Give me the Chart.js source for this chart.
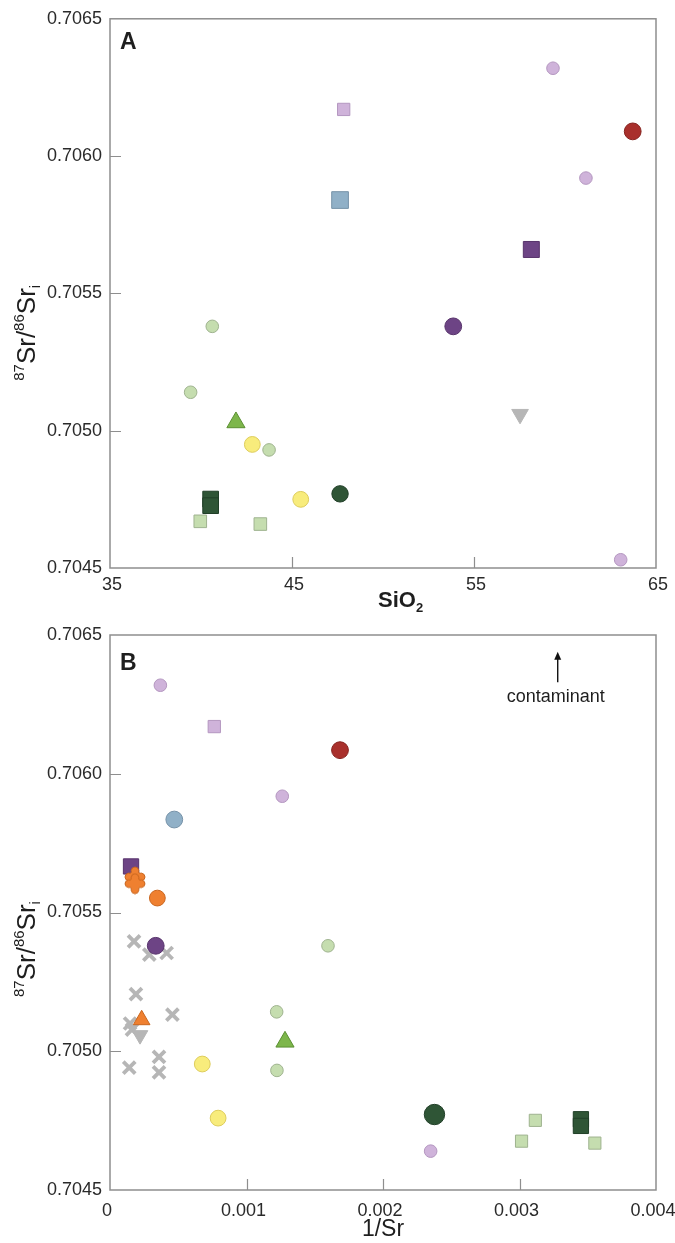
<!DOCTYPE html>
<html>
<head>
<meta charset="utf-8">
<script src="https://cdn.jsdelivr.net/npm/chart.js@4.4.1/dist/chart.umd.min.js"></script>
<style>
  body { margin: 0; background: #fff; width: 675px; height: 1243px; overflow: hidden; position: relative; }
  .wrap { position: absolute; left: 0; }
  #wa { top: 0; }
  #wb { top: 615px; }
</style>
</head>
<body>
<div class="wrap" id="wa"><canvas id="chartA" width="675" height="615"></canvas></div>
<div class="wrap" id="wb"><canvas id="chartB" width="675" height="632"></canvas></div>
<script>
// ---- panel A: SiO2 vs 87Sr/86Sr(i) ----
const lilacCircleSiO2 = [59.34, 61.15, 63.06];
const lilacCircleSrA  = [0.70632, 0.70592, 0.70453];
const lilacSquareSiO2 = [47.84];
const lilacSquareSrA  = [0.70617];
const redCircleSiO2 = [63.72];
const redCircleSrA  = [0.70609];
const blueSiO2 = [47.64];
const blueSrA  = [0.70584];
const purpleSquareSiO2 = [58.15];
const purpleSquareSrA  = [0.70566];
const purpleCircleSiO2 = [53.86];
const purpleCircleSrA  = [0.70538];
const lightGreenCircleSiO2 = [40.62, 39.43, 43.74];
const lightGreenCircleSrA  = [0.70538, 0.70514, 0.70493];
const greenTriangleSiO2 = [41.92];
const greenTriangleSrA  = [0.70503];
const yellowSiO2 = [42.82, 45.48];
const yellowSrA  = [0.70495, 0.70475];
const lightGreenSquareSiO2 = [39.96, 43.26];
const lightGreenSquareSrA  = [0.70467, 0.70466];
const darkGreenSquareSiO2 = [40.53, 40.53];
const darkGreenSquareSrA  = [0.704751, 0.704727];
const darkGreenCircleSiO2 = [47.64];
const darkGreenCircleSrA  = [0.70477];
const greyTriangleSiO2 = [57.53];
const greyTriangleSrA  = [0.70506];

// ---- panel B: 1/Sr vs 87Sr/86Sr(i) ----
const greyCrossInvSr = [0.000176, 0.000288, 0.000415, 0.00019, 0.000457, 0.000147, 0.000161, 0.000359, 0.000141, 0.000359];
const greyCrossSrB   = [0.705396, 0.705348, 0.705354, 0.705206, 0.705132, 0.7051, 0.705078, 0.70498, 0.704941, 0.704924];
const greyTriangleInvSr = [0.00022];
const greyTriangleSrB   = [0.705058];
const purpleSquareInvSr = [0.000154];
const purpleSquareSrB   = [0.705666];
const orangeStarInvSr = [0.000183, 0.000183];
const orangeStarSrB   = [0.705628, 0.705604];
const orangeCircleInvSr = [0.000347];
const orangeCircleSrB   = [0.705552];
const orangeTriangleInvSr = [0.000232];
const orangeTriangleSrB   = [0.705113];
const purpleCircleInvSr = [0.000335];
const purpleCircleSrB   = [0.70538];
const lilacCircleInvSr = [0.000369, 0.001262, 0.002349];
const lilacCircleSrB   = [0.706319, 0.705919, 0.70464];
const lilacSquareInvSr = [0.000764];
const lilacSquareSrB   = [0.70617];
const redCircleInvSr = [0.001685];
const redCircleSrB   = [0.706085];
const blueInvSr = [0.000471];
const blueSrB   = [0.705835];
const lightGreenCircleInvSr = [0.001597, 0.001221, 0.001223];
const lightGreenCircleSrB   = [0.70538, 0.705142, 0.704931];
const greenTriangleInvSr = [0.001282];
const greenTriangleSrB   = [0.705034];
const yellowInvSr = [0.000676, 0.000792];
const yellowSrB   = [0.704954, 0.704759];
const lightGreenSquareInvSr = [0.003116, 0.003015, 0.003552];
const lightGreenSquareSrB   = [0.704751, 0.704676, 0.704669];
const darkGreenSquareInvSr = [0.00345, 0.00345];
const darkGreenSquareSrB   = [0.704755, 0.704731];
const darkGreenCircleInvSr = [0.002377];
const darkGreenCircleSrB   = [0.704772];

// axis ticks
const srTicks = [0.7045, 0.7050, 0.7055, 0.7060, 0.7065];
const sio2Ticks = [35, 45, 55, 65];
const invSrTicks = [0, 0.001, 0.002, 0.003, 0.004];

// contaminant arrow (panel B)
const contaminantX = 0.00328;
const contaminantArrow = [0.70633, 0.70644];
const contaminantLabelY = 0.70626;

const FONT = '"Liberation Sans", Arial, Helvetica, sans-serif';
Chart.defaults.font.family = FONT;

function pts(xs, ys) {
  return xs.map((x, i) => ({ x: x, y: ys[i] }));
}

// orange four-lobed marker
function makeStar() {
  const c = document.createElement('canvas');
  c.width = 22; c.height = 22;
  const g = c.getContext('2d');
  const cx = 11, cy = 11;
  g.beginPath();
  for (let k = 0; k < 4; k++) {
    const a = k * Math.PI / 2 - Math.PI / 2;
    const l = [cx + Math.cos(a - 0.55) * 7.5, cy + Math.sin(a - 0.55) * 7.5];
    const r = [cx + Math.cos(a + 0.55) * 7.5, cy + Math.sin(a + 0.55) * 7.5];
    const tip = [cx + Math.cos(a) * 10, cy + Math.sin(a) * 10];
    const inner = [cx + Math.cos(a + Math.PI / 4) * 4.2, cy + Math.sin(a + Math.PI / 4) * 4.2];
    const nl = [cx + Math.cos(a + Math.PI / 2 - 0.55) * 7.5, cy + Math.sin(a + Math.PI / 2 - 0.55) * 7.5];
    if (k === 0) g.moveTo(l[0], l[1]);
    g.quadraticCurveTo(cx + Math.cos(a - 0.3) * 10.5, cy + Math.sin(a - 0.3) * 10.5, tip[0], tip[1]);
    g.quadraticCurveTo(cx + Math.cos(a + 0.3) * 10.5, cy + Math.sin(a + 0.3) * 10.5, r[0], r[1]);
    g.quadraticCurveTo(inner[0], inner[1], nl[0], nl[1]);
  }
  g.closePath();
  g.fillStyle = '#ef8030';
  g.fill();
  g.strokeStyle = '#c9661f';
  g.lineWidth = 1;
  g.stroke();
  return c;
}

const C = {
  lilac:  ['#cfb3da', '#b497c0'],
  red:    ['#a9302c', '#86231f'],
  blue:   ['#90b0c7', '#7692a8'],
  purple: ['#6d4485', '#57336b'],
  lgreen: ['#c5ddaf', '#9fb38f'],
  gtri:   ['#7db64b', '#5b8f32'],
  yellow: ['#f8ec7c', '#ddcc5c'],
  dgreen: ['#2f5536', '#213f28'],
  grey:   ['#b6b6b6', '#b6b6b6'],
  orange: ['#ef8030', '#c9661f']
};

function ds(data, col, style, radius, extra) {
  return Object.assign({
    data: data,
    backgroundColor: C[col][0],
    borderColor: C[col][1],
    borderWidth: 1,
    pointStyle: style,
    pointRadius: radius,
    pointHoverRadius: radius,
    clip: false
  }, extra || {});
}

// listed bottom -> top
const datasetsA = [
  ds(pts(lilacCircleSiO2, lilacCircleSrA), 'lilac', 'circle', 6.3),
  ds(pts(lilacSquareSiO2, lilacSquareSrA), 'lilac', 'rect', 8.7),
  ds(pts(redCircleSiO2, redCircleSrA), 'red', 'circle', 8.4),
  ds(pts(blueSiO2, blueSrA), 'blue', 'rect', 11.8),
  ds(pts(purpleSquareSiO2, purpleSquareSrA), 'purple', 'rect', 11.3),
  ds(pts(purpleCircleSiO2, purpleCircleSrA), 'purple', 'circle', 8.4),
  ds(pts(lightGreenCircleSiO2, lightGreenCircleSrA), 'lgreen', 'circle', 6.3),
  ds(pts(greenTriangleSiO2, greenTriangleSrA), 'gtri', 'triangle', 10.5),
  ds(pts(yellowSiO2, yellowSrA), 'yellow', 'circle', 7.9),
  ds(pts(lightGreenSquareSiO2, lightGreenSquareSrA), 'lgreen', 'rect', 8.9),
  ds(pts(darkGreenSquareSiO2, darkGreenSquareSrA), 'dgreen', 'rect', 11.1),
  ds(pts(darkGreenCircleSiO2, darkGreenCircleSrA), 'dgreen', 'circle', 8.2),
  ds(pts(greyTriangleSiO2, greyTriangleSrA), 'grey', 'triangle', 9.6, { rotation: 180 })
];

const datasetsB = [
  ds(pts(greyCrossInvSr, greyCrossSrB), 'grey', 'crossRot', 8.5, { borderWidth: 3.8 }),
  ds(pts(greyTriangleInvSr, greyTriangleSrB), 'grey', 'triangle', 9, { rotation: 180 }),
  ds(pts(purpleSquareInvSr, purpleSquareSrB), 'purple', 'rect', 10.8),
  ds(pts(orangeStarInvSr, orangeStarSrB), 'orange', makeStar(), 11),
  ds(pts(orangeCircleInvSr, orangeCircleSrB), 'orange', 'circle', 7.9),
  ds(pts(orangeTriangleInvSr, orangeTriangleSrB), 'orange', 'triangle', 9.6),
  ds(pts(purpleCircleInvSr, purpleCircleSrB), 'purple', 'circle', 8.4),
  ds(pts(lilacCircleInvSr, lilacCircleSrB), 'lilac', 'circle', 6.3),
  ds(pts(lilacSquareInvSr, lilacSquareSrB), 'lilac', 'rect', 8.7),
  ds(pts(redCircleInvSr, redCircleSrB), 'red', 'circle', 8.4),
  ds(pts(blueInvSr, blueSrB), 'blue', 'circle', 8.4),
  ds(pts(lightGreenCircleInvSr, lightGreenCircleSrB), 'lgreen', 'circle', 6.3),
  ds(pts(greenTriangleInvSr, greenTriangleSrB), 'gtri', 'triangle', 10.5),
  ds(pts(yellowInvSr, yellowSrB), 'yellow', 'circle', 7.9),
  ds(pts(lightGreenSquareInvSr, lightGreenSquareSrB), 'lgreen', 'rect', 8.6),
  ds(pts(darkGreenSquareInvSr, darkGreenSquareSrB), 'dgreen', 'rect', 10.8),
  ds(pts(darkGreenCircleInvSr, darkGreenCircleSrB), 'dgreen', 'circle', 10.2)
];

// later datasets on top
function setOrder(list) {
  list.forEach((d, i) => { d.order = list.length - i; });
  return list;
}

function drawRuns(ctx, runs, x, y) {
  let cx = x;
  runs.forEach(r => {
    ctx.font = (r.bold ? 'bold ' : '') + r.size + 'px ' + FONT;
    ctx.fillText(r.t, cx, y + (r.dy || 0));
    cx += ctx.measureText(r.t).width;
  });
}

// frame + inward tick marks
const framePlugin = {
  id: 'frame',
  beforeDatasetsDraw(chart) {
    const { ctx, chartArea: a, scales } = chart;
    const x = scales.x, y = scales.y;
    ctx.save();
    ctx.strokeStyle = '#8e8e8e';
    ctx.lineWidth = 1.5;
    ctx.strokeRect(a.left, a.top, a.right - a.left, a.bottom - a.top);
    ctx.lineWidth = 1.2;
    ctx.beginPath();
    x.ticks.forEach(t => {
      if (t.value > x.min && t.value < x.max) {
        const px = Math.round(x.getPixelForValue(t.value)) + 0.5;
        ctx.moveTo(px, a.bottom); ctx.lineTo(px, a.bottom - 11);
      }
    });
    y.ticks.forEach(t => {
      if (t.value > y.min + 1e-9 && t.value < y.max - 1e-9) {
        const py = Math.round(y.getPixelForValue(t.value)) + 0.5;
        ctx.moveTo(a.left, py); ctx.lineTo(a.left + 11, py);
      }
    });
    ctx.stroke();
    ctx.restore();
  },
  afterDraw(chart, args, opts) {
    const { ctx, chartArea: a } = chart;
    ctx.save();
    ctx.fillStyle = '#1e1e1e';
    ctx.textBaseline = 'alphabetic';
    ctx.textAlign = 'left';
    // panel letter
    ctx.font = 'bold 23px ' + FONT;
    ctx.fillText(opts.panel, a.left + 10, a.top + opts.panelDy);
    // y title 87Sr/86Sr i
    ctx.save();
    ctx.translate(a.left - 75, a.top + 362);
    ctx.rotate(-Math.PI / 2);
    drawRuns(ctx, [
      { t: '87', size: 15, dy: -11 },
      { t: 'Sr/', size: 26 },
      { t: '86', size: 15, dy: -11 },
      { t: 'Sr', size: 26 },
      { t: 'i', size: 15, dy: 5 }
    ], 0, 0);
    ctx.restore();
    if (opts.sio2) {
      drawRuns(ctx, [
        { t: 'SiO', size: 22, bold: true },
        { t: '2', size: 13, bold: true, dy: 5 }
      ], a.left + 268, a.bottom + 39);
    }
    if (opts.contaminant) {
      const x = chart.scales.x, y = chart.scales.y;
      const px = x.getPixelForValue(contaminantX);
      const y0 = y.getPixelForValue(contaminantArrow[0]);
      const y1 = y.getPixelForValue(contaminantArrow[1]);
      ctx.strokeStyle = '#111'; ctx.fillStyle = '#111';
      ctx.lineWidth = 1.4;
      ctx.beginPath(); ctx.moveTo(px, y0); ctx.lineTo(px, y1 + 6); ctx.stroke();
      ctx.beginPath(); ctx.moveTo(px, y1); ctx.lineTo(px - 3.5, y1 + 8); ctx.lineTo(px + 3.5, y1 + 8); ctx.closePath(); ctx.fill();
      ctx.fillStyle = '#1e1e1e';
      ctx.font = '18px ' + FONT;
      ctx.textAlign = 'center';
      ctx.fillText('contaminant', px - 2, y.getPixelForValue(contaminantLabelY));
    }
    ctx.restore();
  }
};

function yAxis() {
  return {
    type: 'linear',
    min: srTicks[0],
    max: srTicks[srTicks.length - 1],
    afterBuildTicks: s => { s.ticks = srTicks.map(v => ({ value: v })); },
    ticks: { callback: v => Number(v).toFixed(4), color: '#2a2a2a', font: { size: 18 }, padding: 8 },
    grid: { display: false, drawTicks: false },
    border: { display: false },
    afterFit: s => { s.width = 110; }
  };
}

new Chart(document.getElementById('chartA'), {
  type: 'scatter',
  data: { datasets: setOrder(datasetsA) },
  options: {
    responsive: false,
    animation: false,
    layout: { padding: { top: 15, right: 19, left: 0, bottom: 0 } },
    plugins: {
      legend: { display: false },
      tooltip: { enabled: false },
      frame: { panel: 'A', panelDy: 30, sio2: true }
    },
    scales: {
      x: {
        type: 'linear',
        min: sio2Ticks[0],
        max: sio2Ticks[sio2Ticks.length - 1],
        afterBuildTicks: s => { s.ticks = sio2Ticks.map(v => ({ value: v })); },
        ticks: { color: '#2a2a2a', font: { size: 18 }, padding: 6, labelOffset: 2, maxRotation: 0, autoSkip: false },
        grid: { display: false, drawTicks: false },
        border: { display: false },
        afterFit: s => { s.height = 47; s.paddingLeft = 0; s.paddingRight = 0; }
      },
      y: yAxis()
    }
  },
  plugins: [framePlugin]
});

new Chart(document.getElementById('chartB'), {
  type: 'scatter',
  data: { datasets: setOrder(datasetsB) },
  options: {
    responsive: false,
    animation: false,
    layout: { padding: { top: 20, right: 19, left: 0, bottom: 0 } },
    plugins: {
      legend: { display: false },
      tooltip: { enabled: false },
      frame: { panel: 'B', panelDy: 35, contaminant: true }
    },
    scales: {
      x: {
        type: 'linear',
        min: invSrTicks[0],
        max: invSrTicks[invSrTicks.length - 1],
        afterBuildTicks: s => { s.ticks = invSrTicks.map(v => ({ value: v })); },
        ticks: {
          callback: v => (v === 0 ? '0' : Number(v).toFixed(3)),
          color: '#2a2a2a', font: { size: 18 }, padding: 10, labelOffset: -3, maxRotation: 0, autoSkip: false
        },
        title: { display: true, text: '1/Sr', color: '#1e1e1e', font: { size: 23 }, padding: { top: 0, bottom: 4 } },
        grid: { display: false, drawTicks: false },
        border: { display: false },
        afterFit: s => { s.height = 57; s.paddingLeft = 0; s.paddingRight = 0; }
      },
      y: yAxis()
    }
  },
  plugins: [framePlugin]
});
</script>
</body>
</html>
